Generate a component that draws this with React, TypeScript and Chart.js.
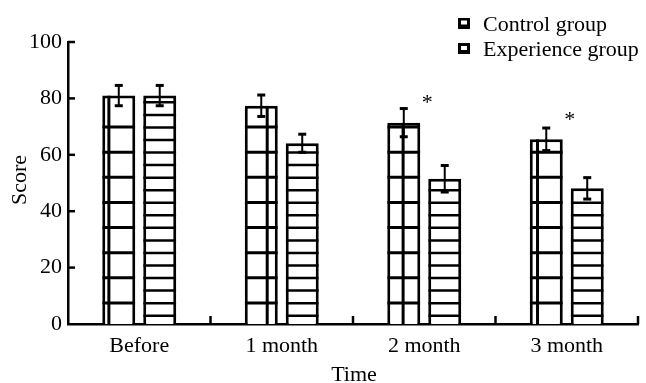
import React, { useEffect, useRef } from "react";
import { Chart, registerables } from "chart.js";

Chart.register(...registerables);

const categories = ["Before", "1 month", "2 month", "3 month"];
const seriesLabels = ["Control group", "Experience group"];
const controlValues = [81, 77.4, 71.4, 65.5];
const controlErrors = [3.6, 3.8, 5.0, 4.0];
const experienceValues = [81, 64.1, 51.5, 48.1];
const experienceErrors = [3.6, 3.2, 4.7, 3.8];
const starLevels: (number | null)[] = [null, null, 80.9, 74.8];
const yTickValues = [0, 20, 40, 60, 80, 100];
const xTitle = "Time";
const yTitle = "Score";

const FONT = '"Liberation Serif", "Times New Roman", serif';

const overlayPlugin = {
  id: "overlay",
  afterDatasetsDraw(chart: any) {
    const ctx: CanvasRenderingContext2D = chart.ctx;
    const xs = chart.scales.x;
    const ys = chart.scales.y;
    const area = chart.chartArea;
    const base = ys.getPixelForValue(0);
    const vFrac = [0.2, 0.68, 0.48, 0.235];
    const errs = [controlErrors, experienceErrors];
    const vals = [controlValues, experienceValues];
    const line = (x1: number, y1: number, x2: number, y2: number) => {
      ctx.beginPath();
      ctx.moveTo(x1, y1);
      ctx.lineTo(x2, y2);
      ctx.stroke();
    };
    ctx.save();
    ctx.strokeStyle = "#000";
    ctx.lineCap = "butt";
    chart.data.datasets.forEach((_ds: any, di: number) => {
      const meta = chart.getDatasetMeta(di);
      meta.data.forEach((bar: any, i: number) => {
        const p = bar.getProps(["x", "y", "base", "width"], true);
        const left = p.x - p.width / 2;
        const right = p.x + p.width / 2;
        const top = p.y;
        ctx.save();
        ctx.beginPath();
        ctx.rect(left, top, p.width, p.base - top);
        ctx.clip();
        if (di === 0) {
          ctx.lineWidth = 3;
          for (let k = 0; k < 8; k++) {
            const yy = base - 21 - k * 25.14;
            if (yy < top + 4) break;
            line(left, yy, right, yy);
          }
          const vx = left + vFrac[i] * p.width;
          line(vx, top, vx, p.base);
        } else {
          ctx.lineWidth = 2.5;
          for (let k = 0; k < 40; k++) {
            const yy = base - 8.3 - k * 12.55;
            if (yy < top + 4) break;
            line(left, yy, right, yy);
          }
        }
        ctx.restore();
        // error bar
        const v = vals[di][i];
        const e = errs[di][i];
        const yt = ys.getPixelForValue(v + e);
        const yb = ys.getPixelForValue(v - e);
        ctx.lineWidth = 2;
        line(p.x, yt, p.x, yb);
        ctx.lineWidth = 3;
        line(p.x - 4, yt, p.x + 4, yt);
        line(p.x - 4, yb, p.x + 4, yb);
      });
    });

    // inward ticks on y axis
    ctx.lineWidth = 2.5;
    yTickValues.forEach((v) => {
      if (v === 0) return;
      const yy = ys.getPixelForValue(v);
      line(area.left, yy, area.left + 7, yy);
    });
    // inward ticks on x axis at category boundaries
    for (let i = 0; i < categories.length; i++) {
      const bx =
        i < categories.length - 1
          ? (xs.getPixelForTick(i) + xs.getPixelForTick(i + 1)) / 2
          : area.right;
      line(bx, area.bottom, bx, area.bottom - 8);
    }

    // significance stars
    ctx.fillStyle = "#000";
    ctx.font = `22px ${FONT}`;
    ctx.textAlign = "center";
    ctx.textBaseline = "alphabetic";
    starLevels.forEach((s, i) => {
      if (s == null) return;
      const sx = xs.getPixelForTick(i) + 3;
      const sy = ys.getPixelForValue(s);
      ctx.fillText("*", sx, sy + 13);
    });

    // axis titles
    ctx.fillText(xTitle, (area.left + area.right) / 2 + 1, 381);
    ctx.save();
    ctx.translate(26, 180);
    ctx.rotate(-Math.PI / 2);
    ctx.fillText(yTitle, 0, 0);
    ctx.restore();

    // legend
    ctx.textAlign = "left";
    ctx.textBaseline = "middle";
    chart.data.datasets.forEach((ds: any, di: number) => {
      const cy = 24 + di * 25;
      const bx = 458;
      ctx.fillStyle = "#000";
      ctx.fillRect(bx, cy - 6, 12, 11);
      ctx.fillStyle = "#fff";
      ctx.fillRect(bx + 3, cy - 3.5 + di * 0.5, 6, 4);
      ctx.fillStyle = "#000";
      ctx.fillText(ds.label, 483, cy + 1);
    });
    ctx.restore();
  },
};

export default function App() {
  const ref = useRef<HTMLCanvasElement | null>(null);
  useEffect(() => {
    if (!ref.current) return;
    Chart.defaults.font.family = FONT;
    Chart.defaults.font.size = 22;
    Chart.defaults.color = "#000";
    const chart = new Chart(ref.current, {
      type: "bar",
      data: {
        labels: categories,
        datasets: [
          {
            label: seriesLabels[0],
            data: controlValues,
            backgroundColor: "#fff",
            borderColor: "#000",
            borderWidth: 3,
            categoryPercentage: 0.575,
            barPercentage: 0.805,
          },
          {
            label: seriesLabels[1],
            data: experienceValues,
            backgroundColor: "#fff",
            borderColor: "#000",
            borderWidth: 3,
            categoryPercentage: 0.575,
            barPercentage: 0.805,
          },
        ],
      },
      options: {
        animation: false,
        responsive: false,
        maintainAspectRatio: false,
        layout: { padding: { left: 0, top: 42, right: 8, bottom: 0 } },
        plugins: {
          legend: { display: false },
          tooltip: { enabled: false },
          title: { display: false },
        },
        scales: {
          x: {
            z: 1,
            grid: { display: false, drawTicks: false },
            border: { display: true, color: "#000", width: 2.5 },
            ticks: { padding: 9, font: { size: 22, family: FONT }, color: "#000", maxRotation: 0 },
            afterFit: (scale: any) => {
              scale.height = 59;
            },
          },
          y: {
            z: 1,
            min: 0,
            max: 100,
            grid: { display: false, drawTicks: false },
            border: { display: true, color: "#000", width: 2.5 },
            ticks: {
              stepSize: 20,
              padding: 6,
              font: { size: 22, family: FONT },
              color: "#000",
            },
            afterFit: (scale: any) => {
              scale.width = 68;
            },
          },
        },
      },
      plugins: [overlayPlugin],
    });
    return () => chart.destroy();
  }, []);
  return (
    <div style={{ position: "absolute", left: 0, top: 0, width: 646, height: 383, background: "#fff" }}>
      <canvas ref={ref} width={646} height={383} style={{ display: "block" }} />
    </div>
  );
}
